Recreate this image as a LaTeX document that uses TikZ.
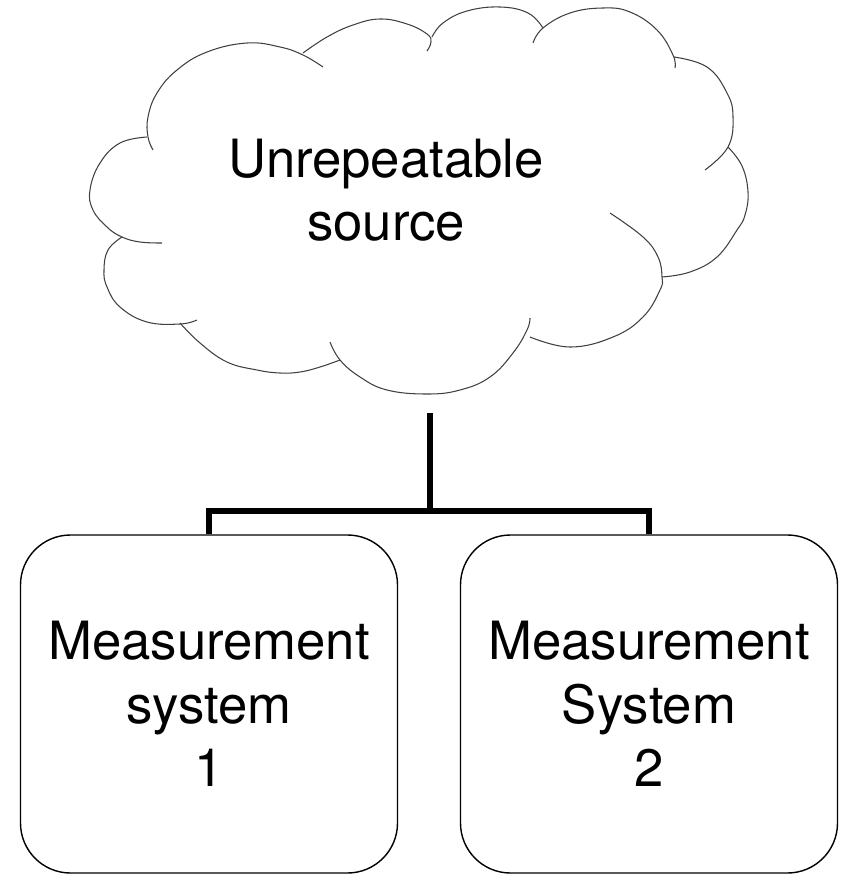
\documentclass[tikz,border=0pt]{standalone}
\usepackage{fontspec}
\setmainfont{TeX Gyre Heros}
\newcommand\boxfont{\fontsize{30}{36}\selectfont}

\begin{document}
\begin{tikzpicture}[x=0.2mm, y=0.2mm, yscale=-1,
    cloudline/.style={draw=black!75, line width=0.6pt, smooth, tension=0.7},
    system/.style={draw, rounded corners=10mm, line width=0.8pt,
        minimum width=75.4mm, minimum height=67.6mm,
        align=center, font=\boxfont},
    link/.style={line width=3.4pt}]
    \useasboundingbox (0,0) rectangle (842,876);

    % mrak
    \draw[cloudline] plot coordinates {(147,137) (120,143) (100,163) (90,190) (93,210) (107,227) (122,237) (140,242) (162,243)};
    \draw[cloudline] plot coordinates {(153,150) (148,137) (148,117) (157,93) (177,70) (207,52) (247,43) (280,47) (303,55) (323,67)};
    \draw[cloudline] plot coordinates {(303,53) (327,37) (353,25) (380,19) (407,24) (427,34) (431,42) (427,51)};
    \draw[cloudline] plot coordinates {(432,37) (443,23) (467,11) (500,7) (528,13) (543,28)};
    \draw[cloudline] plot coordinates {(533,43) (543,28) (570,13) (603,8) (630,12) (657,30) (673,55) (675,68)};
    \draw[cloudline] plot coordinates {(674,57) (707,67) (727,93) (733,117) (728,147) (705,170)};
    \draw[cloudline] plot coordinates {(728,147) (742,166) (748,192) (745,215) (737,230) (717,257) (690,272) (662,277)};
    \draw[cloudline] plot coordinates {(610,213) (643,237) (658,257) (662,277) (660,290) (643,317) (613,337) (570,347) (530,337)};
    \draw[cloudline] plot coordinates {(530,318) (527,330) (513,353) (490,377) (460,390) (427,394) (387,390) (360,377) (340,360) (330,342)};
    \draw[cloudline] plot coordinates {(340,360) (320,367) (300,372) (280,373) (257,370) (227,362) (200,343) (180,323)};
    \draw[cloudline] plot coordinates {(197,320) (180,324) (147,322) (120,307) (107,287) (104,270) (108,250) (122,237)};
    \node[align=center, font=\boxfont] (src) at (386,190) {Unrepeatable\\source};

    % merici systemy
    \node[system] (box1) at (209,704) {Measurement\\system\\1};
    \node[system] (box2) at (649,704) {Measurement\\System\\2};

    % spojnice
    \coordinate (tap) at (430,413);
    \coordinate (fork) at (430,511);
    \draw[link] (tap) -- (fork);
    \draw[link] (box1.north) |- (fork) -| (box2.north);
\end{tikzpicture}
\end{document}
